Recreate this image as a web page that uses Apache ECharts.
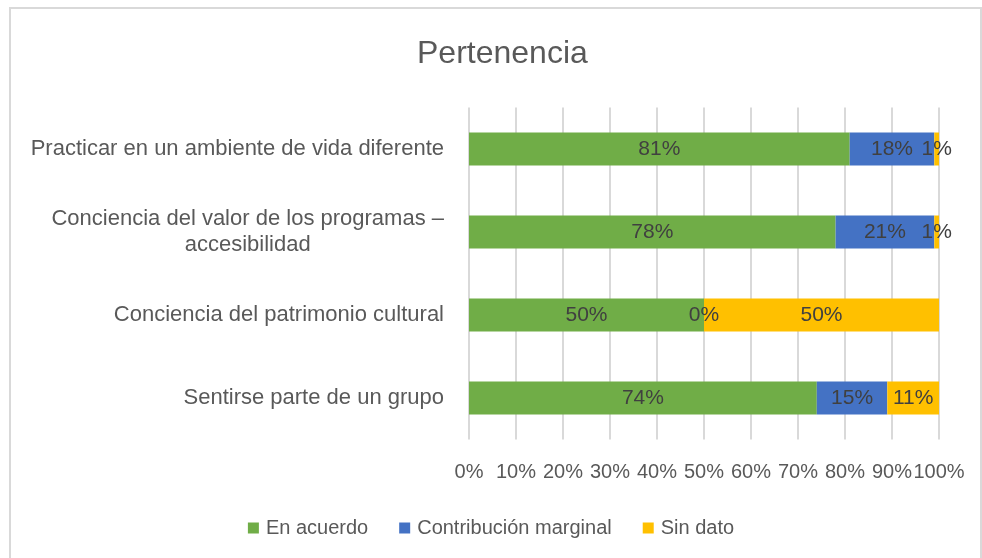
<!DOCTYPE html>
<html style="height: 100%">
<head>
    <meta charset="utf-8">
    <title>Pertenencia</title>
</head>
<body style="height: 100%; margin: 0">
<div id="container" style="width: 982px; height: 558px"></div>

<script src="https://cdn.jsdelivr.net/npm/echarts@6/dist/echarts.min.js"></script>
<script type="text/javascript">
var categories = [
    'Practicar en un ambiente de vida diferente',
    'Conciencia del valor de los programas –\naccesibilidad',
    'Conciencia del patrimonio cultural',
    'Sentirse parte de un grupo'
];
var seriesNames = ['En acuerdo', 'Contribución marginal', 'Sin dato'];
var enAcuerdo = [81, 78, 50, 74];
var contribucion = [18, 21, 0, 15];
var sinDato = [1, 1, 50, 11];
var xTicks = [0, 10, 20, 30, 40, 50, 60, 70, 80, 90, 100];

var colors = ['#70AD47', '#4472C4', '#FFC000'];
var font = 'Liberation Sans';

var myChart = echarts.init(document.getElementById('container'));

function makeSeries(name, values, color) {
    return {
        name: name,
        type: 'bar',
        stack: 'total',
        barWidth: 33,
        data: values,
        itemStyle: { color: color },
        label: {
            show: true,
            position: 'inside',
            formatter: '{c}%',
            color: '#404040',
            fontFamily: font,
            fontSize: 21
        }
    };
}

var option = {
    backgroundColor: '#ffffff',
    animation: false,
    title: {
        text: 'Pertenencia',
        left: 412,
        top: 33,
        textStyle: {
            color: '#595959',
            fontFamily: font,
            fontSize: 32,
            fontWeight: 'normal'
        }
    },
    legend: {
        data: seriesNames,
        top: 513,
        left: 'center',
        itemWidth: 11,
        itemHeight: 11,
        itemGap: 31,
        icon: 'rect',
        textStyle: {
            color: '#595959',
            fontFamily: font,
            fontSize: 20,
            padding: [0, 0, 0, 2]
        }
    },
    graphic: [{
        type: 'rect',
        shape: { x: 10, y: 8, width: 971, height: 560 },
        style: { fill: 'none', stroke: '#d9d9d9', lineWidth: 2 },
        silent: true
    }],
    grid: {
        left: 469,
        right: 43,
        top: 107.5,
        bottom: 118.5
    },
    xAxis: {
        type: 'value',
        min: 0,
        max: 100,
        interval: 10,
        axisLine: { show: false },
        axisTick: { show: false },
        splitLine: { lineStyle: { color: '#d9d9d9', width: 2 } },
        axisLabel: {
            margin: 23,
            color: '#595959',
            fontFamily: font,
            fontSize: 20,
            hideOverlap: false,
            formatter: function (v) {
                return xTicks.indexOf(v) >= 0 ? v + '%' : '';
            }
        }
    },
    yAxis: {
        type: 'category',
        inverse: true,
        data: categories,
        axisLine: { show: false },
        axisTick: { show: false },
        axisLabel: {
            margin: 25,
            color: '#595959',
            fontFamily: font,
            fontSize: 22,
            lineHeight: 26,
            formatter: function (v) {
                var parts = v.split('\n');
                if (parts.length === 1) return v;
                return parts[0] + '\n{c|' + parts[1] + '}';
            },
            rich: {
                c: {
                    align: 'center',
                    color: '#595959',
                    fontFamily: font,
                    fontSize: 22,
                    lineHeight: 26
                }
            }
        }
    },
    series: [
        makeSeries(seriesNames[0], enAcuerdo, colors[0]),
        makeSeries(seriesNames[1], contribucion, colors[1]),
        makeSeries(seriesNames[2], sinDato, colors[2])
    ]
};

myChart.setOption(option);
</script>
</body>
</html>
